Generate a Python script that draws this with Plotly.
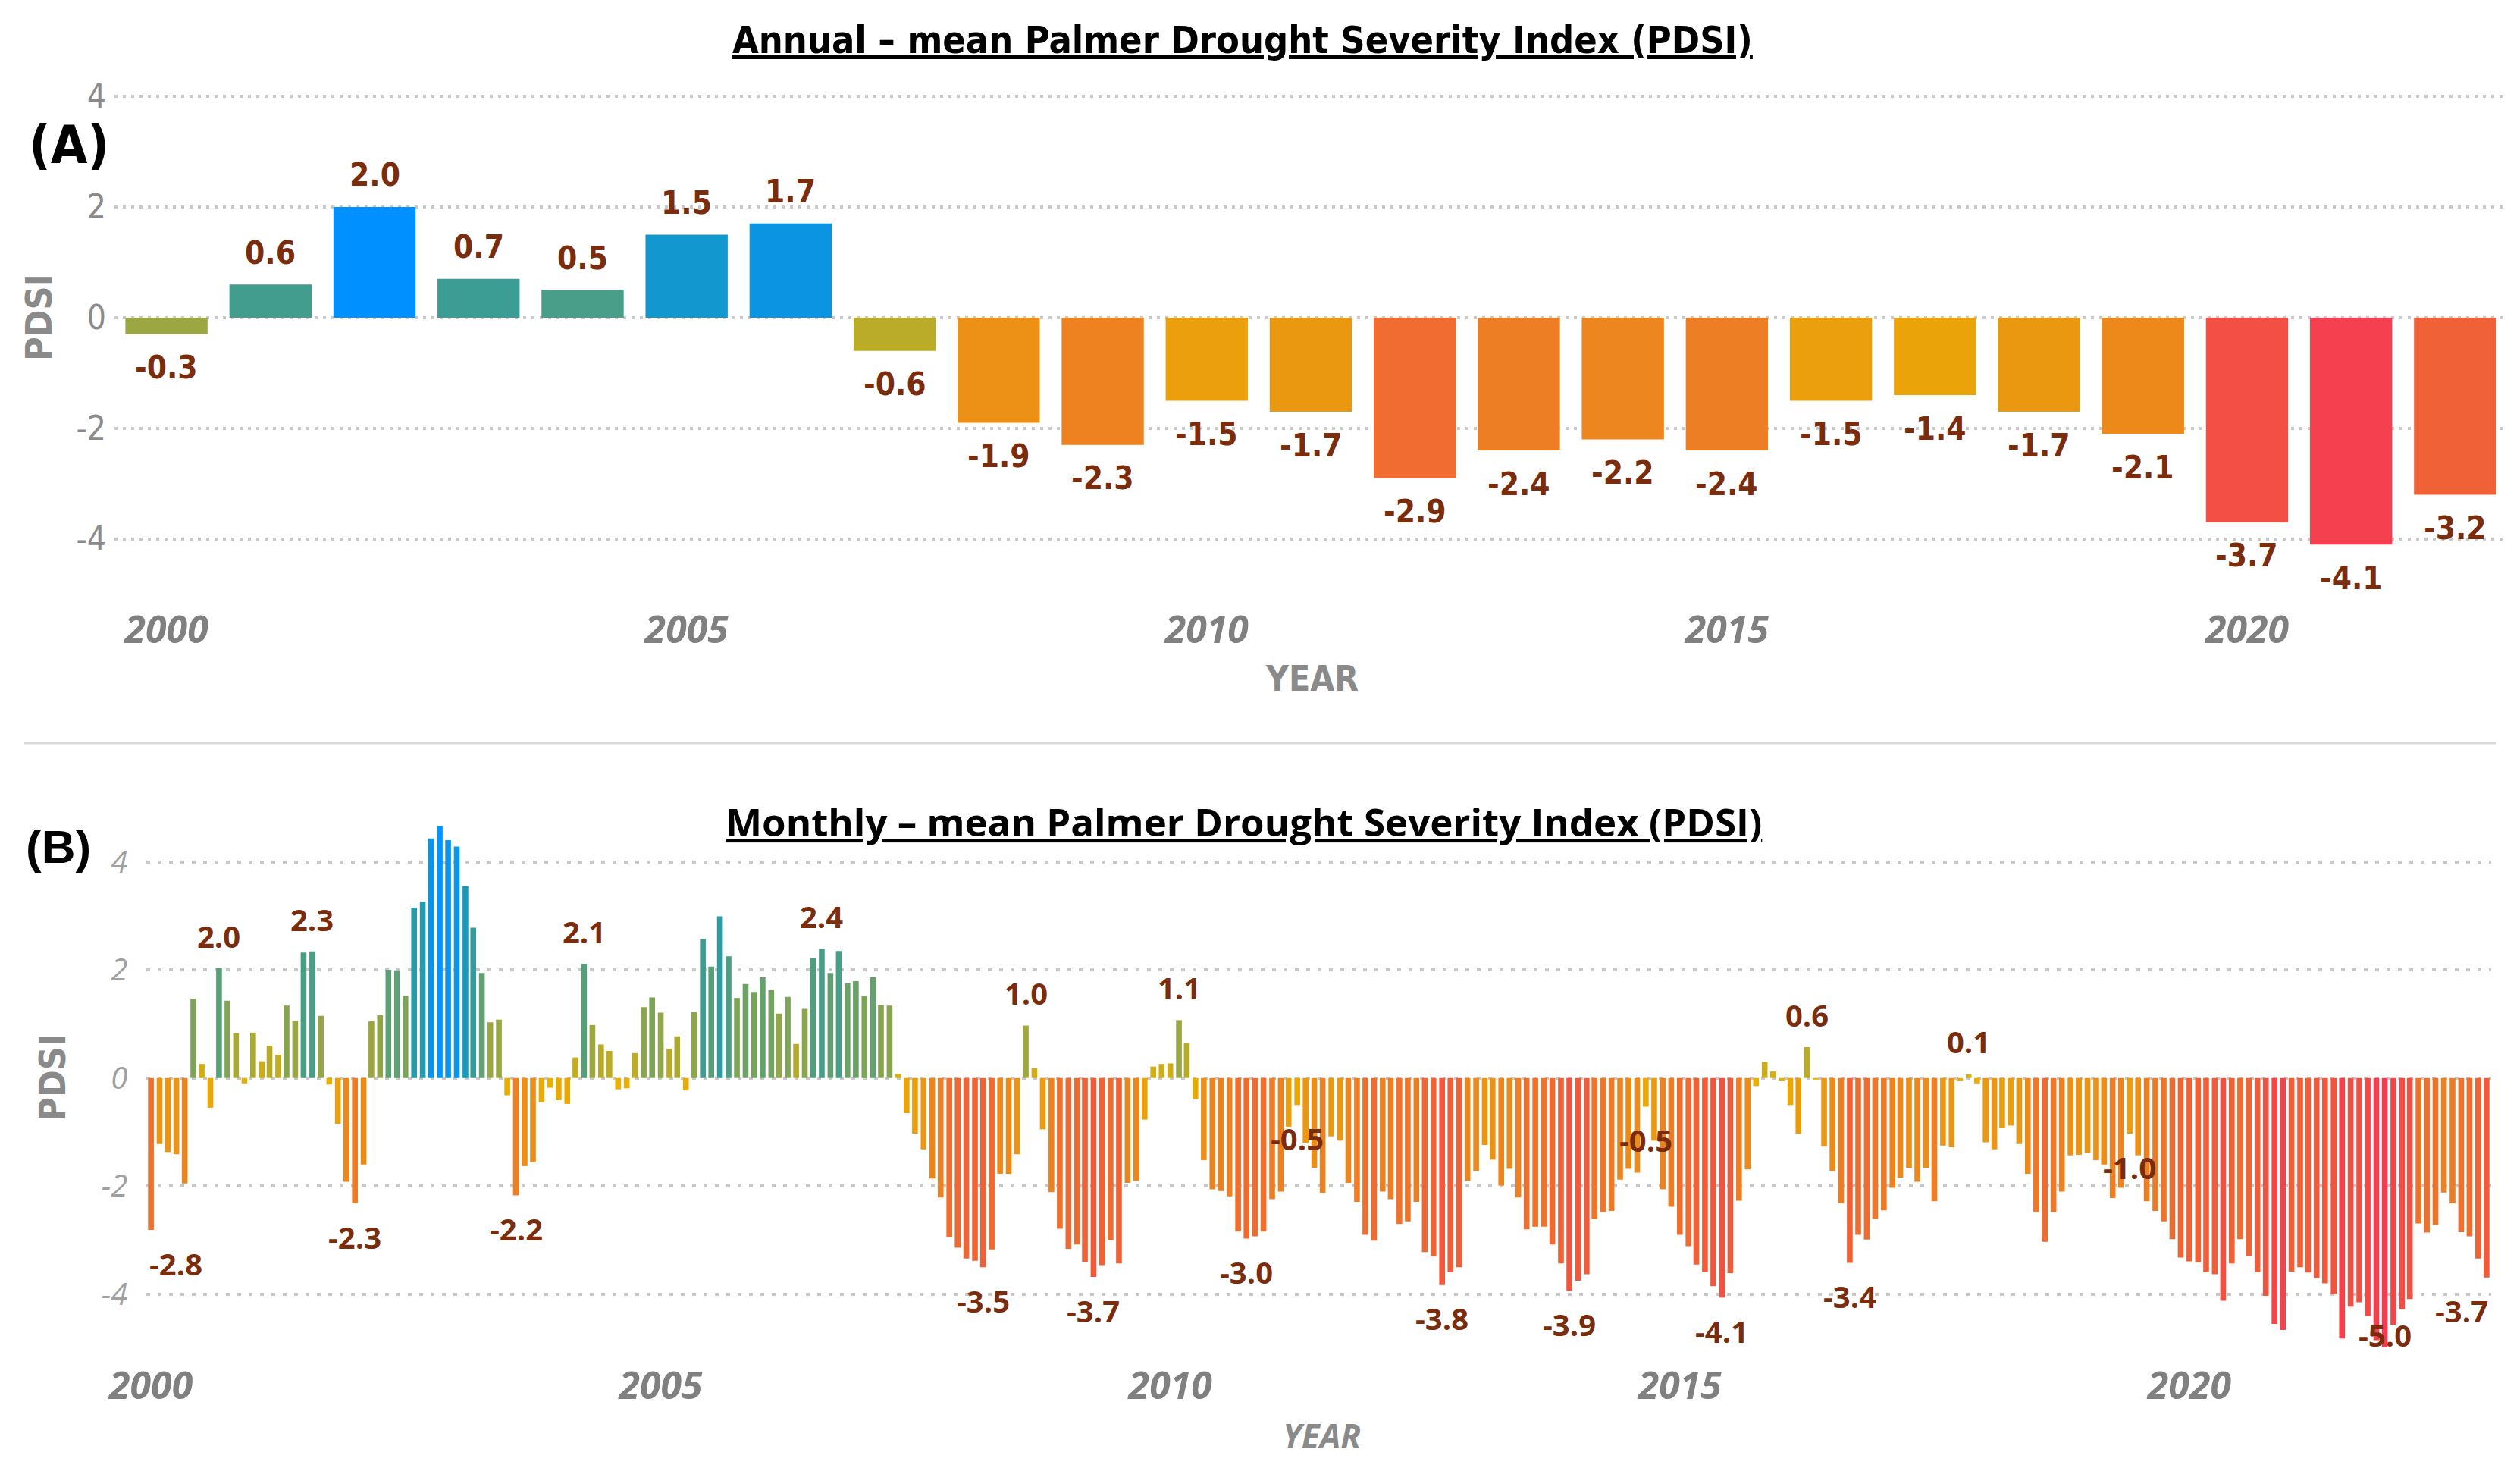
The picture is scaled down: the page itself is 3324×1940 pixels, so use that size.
import pandas as pd
import plotly.graph_objects as go

W, H = 3324, 1940

# ---- annual mean PDSI ----
years = list(range(2000, 2023))
annual_pdsi = [-0.3, 0.6, 2.0, 0.7, 0.5, 1.5, 1.7, -0.6, -1.9, -2.3, -1.5, -1.7,
               -2.9, -2.4, -2.2, -2.4, -1.5, -1.4, -1.7, -2.1, -3.7, -4.1, -3.2]

# ---- monthly mean PDSI, Jan 2000 .. Dec 2022 ----
pdsi_2000 = [-2.81, -1.22, -1.37, -1.41, -1.95, 1.47, 0.26, -0.55, 2.03, 1.43, 0.83, -0.10]
pdsi_2001 = [0.84, 0.31, 0.60, 0.43, 1.34, 1.06, 2.32, 2.34, 1.15, -0.12, -0.85, -1.92]
pdsi_2002 = [-2.32, -1.60, 1.05, 1.16, 2.00, 1.99, 1.52, 3.15, 3.26, 4.43, 4.66, 4.40]
pdsi_2003 = [4.28, 3.55, 2.78, 1.94, 1.03, 1.08, -0.32, -2.17, -1.63, -1.56, -0.45, -0.18]
pdsi_2004 = [-0.41, -0.48, 0.38, 2.11, 0.98, 0.62, 0.50, -0.21, -0.19, 0.46, 1.31, 1.49]
pdsi_2005 = [1.21, 0.54, 0.77, -0.23, 1.22, 2.57, 2.06, 2.99, 2.25, 1.48, 1.74, 1.59]
pdsi_2006 = [1.86, 1.63, 1.19, 1.50, 0.63, 1.28, 2.21, 2.39, 1.94, 2.35, 1.75, 1.79]
pdsi_2007 = [1.51, 1.86, 1.35, 1.34, 0.08, -0.65, -1.03, -1.32, -1.86, -2.21, -2.95, -3.14]
pdsi_2008 = [-3.34, -3.38, -3.50, -3.17, -1.77, -1.77, -1.41, 0.97, 0.18, -0.95, -2.11, -2.79]
pdsi_2009 = [-3.16, -3.08, -3.40, -3.68, -3.46, -3.00, -3.43, -1.94, -1.90, -0.77, 0.21, 0.26]
pdsi_2010 = [0.27, 1.07, 0.64, -0.39, -1.52, -2.06, -2.09, -2.19, -2.84, -2.97, -2.93, -2.84]
pdsi_2011 = [-2.24, -2.10, -0.90, -0.50, -1.20, -1.66, -2.13, -1.08, -1.16, -1.94, -2.29, -2.90]
pdsi_2012 = [-3.01, -2.10, -2.24, -2.70, -2.65, -2.29, -3.22, -3.30, -3.83, -3.59, -3.50, -1.90]
pdsi_2013 = [-1.72, -1.24, -1.51, -1.99, -1.68, -2.21, -2.80, -2.75, -2.75, -3.08, -3.43, -3.94]
pdsi_2014 = [-3.75, -3.63, -2.61, -2.48, -2.46, -1.88, -1.68, -1.75, -0.53, -1.16, -2.06, -2.38]
pdsi_2015 = [-2.90, -3.11, -3.45, -3.59, -3.85, -4.06, -3.61, -2.27, -1.69, -0.15, 0.30, 0.12]
pdsi_2016 = [-0.05, -0.50, -1.03, 0.57, -0.03, -1.27, -1.72, -2.32, -3.42, -2.90, -2.99, -2.61]
pdsi_2017 = [-2.45, -2.03, -1.84, -1.66, -1.92, -1.66, -2.28, -1.25, -1.28, -0.05, 0.07, -0.10]
pdsi_2018 = [-1.19, -1.32, -0.93, -0.88, -1.22, -1.77, -2.48, -3.03, -2.48, -2.10, -1.43, -1.42]
pdsi_2019 = [-1.38, -1.52, -1.60, -2.22, -2.03, -1.03, -1.43, -2.28, -2.46, -2.65, -2.98, -3.32]
pdsi_2020 = [-3.39, -3.41, -3.59, -3.63, -4.12, -3.43, -2.98, -3.29, -3.59, -4.03, -4.55, -4.66]
pdsi_2021 = [-3.58, -3.50, -3.60, -3.70, -3.80, -4.00, -4.82, -4.23, -4.15, -4.41, -4.85, -4.98]
pdsi_2022 = [-4.57, -4.28, -4.09, -2.69, -2.86, -2.72, -2.12, -2.32, -2.85, -2.93, -3.34, -3.69]

monthly_pdsi = (pdsi_2000 + pdsi_2001 + pdsi_2002 + pdsi_2003 + pdsi_2004 + pdsi_2005
                + pdsi_2006 + pdsi_2007 + pdsi_2008 + pdsi_2009 + pdsi_2010 + pdsi_2011
                + pdsi_2012 + pdsi_2013 + pdsi_2014 + pdsi_2015 + pdsi_2016 + pdsi_2017
                + pdsi_2018 + pdsi_2019 + pdsi_2020 + pdsi_2021 + pdsi_2022)
months = pd.date_range("2000-01-01", periods=len(monthly_pdsi), freq="MS")

# months that carry a data label in panel B
labelled_months = ["2000-01", "2000-09", "2001-08", "2002-01", "2002-11", "2003-08",
                   "2004-04", "2006-08", "2008-03", "2008-08", "2009-04", "2010-02",
                   "2010-10", "2011-04", "2012-09", "2013-12", "2014-09", "2015-06",
                   "2016-04", "2016-09", "2017-11", "2019-06", "2021-12", "2022-12"]

tick_years = [2000, 2005, 2010, 2015, 2020]
pdsi_ticks = [-4, -2, 0, 2, 4]
pdsi_ticktext = ["-4", "-2", "0", "2", "4"]

NARROW = "Liberation Sans Narrow, DejaVu Sans Condensed, Arial Narrow, sans-serif"
WIDE = "Open Sans, Noto Sans, sans-serif"
LABEL_COLOR = "#7b2c0c"
GREY = "#808080"

scale_annual = [[0.0, "#F4404F"], [0.5, "#E9B000"], [0.75, "#4A9E86"],
                [0.88, "#1A9AB8"], [1.0, "#0090FF"]]
scale_monthly = [[0.0, "#F43C50"], [0.5, "#E9B000"], [0.75, "#4C9E82"],
                 [0.88, "#1A9AB8"], [1.0, "#0094FF"]]


def px_x(p):
    return p / W


def px_y(p):
    return 1 - p / H


fig = go.Figure()

fig.add_trace(go.Bar(
    x=years, y=annual_pdsi, width=0.79,
    marker=dict(color=annual_pdsi, colorscale=scale_annual,
                cmin=min(annual_pdsi), cmax=max(annual_pdsi), line=dict(width=0)),
    xaxis="x", yaxis="y", showlegend=False, hoverinfo="skip",
))

fig.add_trace(go.Bar(
    x=months, y=monthly_pdsi, width=20.7 * 86400000,
    marker=dict(color=monthly_pdsi, colorscale=scale_monthly,
                cmin=min(monthly_pdsi), cmax=max(monthly_pdsi), line=dict(width=0)),
    xaxis="x2", yaxis="y2", showlegend=False, hoverinfo="skip",
))

grid_a = dict(showgrid=True, gridcolor="#c8c8c8", gridwidth=4, griddash="4px,7px")
grid_b = dict(showgrid=True, gridcolor="#c8c8c8", gridwidth=4, griddash="5px,10px")

fig.update_layout(
    width=W, height=H,
    margin=dict(l=0, r=0, t=0, b=0, autoexpand=False),
    paper_bgcolor="white", plot_bgcolor="white",
    xaxis=dict(domain=[px_x(151), px_x(3307)], range=[1999.5, 2022.5], automargin=False,
               tickvals=tick_years, showgrid=False, zeroline=False, showline=False,
               ticks="", ticklabelstandoff=0,
               tickfont=dict(family=WIDE, size=50, color=GREY, weight="bold", style="italic")),
    yaxis=dict(domain=[px_y(797), px_y(97.8)], range=[-5.18, 4.4], automargin=False,
               tickvals=pdsi_ticks, ticktext=pdsi_ticktext, zeroline=False, showline=False,
               ticks="", ticklabelstandoff=10,
               tickfont=dict(family=NARROW, size=44, color="#8a8a8a"), **grid_a),
    xaxis2=dict(type="date", domain=[px_x(193.4), px_x(3285.6)], automargin=False,
                range=["1999-12-16 12:00", "2022-12-16 12:00"], anchor="y2",
                tickvals=[f"{y}-01-01" for y in tick_years], ticktext=[str(y) for y in tick_years],
                showgrid=False, zeroline=False, showline=False, ticks="", ticklabelstandoff=4,
                tickfont=dict(family=WIDE, size=50, color=GREY, weight="bold", style="italic")),
    yaxis2=dict(domain=[px_y(1790.3), px_y(1065.2)], range=[-5.17, 5.0], anchor="x2",
                automargin=False, tickvals=pdsi_ticks, ticktext=pdsi_ticktext,
                zeroline=False, showline=False, ticks="", ticklabelstandoff=24,
                tickfont=dict(family=WIDE, size=40, color="#a0a0a0", style="italic"), **grid_b),
)

ann = []

# titles and panel letters
ann.append(dict(x=px_x(1639), y=px_y(53), xref="paper", yref="paper",
                text="<b><u>Annual – mean Palmer Drought Severity Index (PDSI)</u></b>",
                font=dict(family=NARROW, size=50, color="black")))
ann.append(dict(x=px_x(1640), y=px_y(1083), xref="paper", yref="paper",
                text="<b><u>Monthly – mean Palmer Drought Severity Index (PDSI)</u></b>",
                font=dict(family=WIDE, size=51, color="black")))
ann.append(dict(x=px_x(91), y=px_y(191), xref="paper", yref="paper", text="<b>(A)</b>",
                font=dict(family=NARROW, size=70, color="black")))
ann.append(dict(x=px_x(77), y=px_y(1116), xref="paper", yref="paper", text="<b>(B)</b>",
                font=dict(family="Liberation Sans, Arial, sans-serif", size=62, color="black")))

# axis titles
ann.append(dict(x=px_x(51), y=0, xref="paper", yref="y", text="<b>PDSI</b>", textangle=-90,
                font=dict(family=NARROW, size=48, color="#8a8a8a")))
ann.append(dict(x=px_x(69), y=0, xref="paper", yref="y2", text="<b>PDSI</b>", textangle=-90,
                font=dict(family=NARROW, size=48, color="#8a8a8a")))
ann.append(dict(x=px_x(1730), y=px_y(895), xref="paper", yref="paper", text="<b>YEAR</b>",
                font=dict(family=NARROW, size=46, color="#8a8a8a")))
ann.append(dict(x=px_x(1743), y=px_y(1893), xref="paper", yref="paper", text="<b><i>YEAR</i></b>",
                font=dict(family=WIDE, size=44, color="#8a8a8a")))

# data labels, annual: every bar
for yr, v in zip(years, annual_pdsi):
    ann.append(dict(x=yr, y=v, xref="x", yref="y", text=f"<b>{v:.1f}</b>",
                    yshift=42 if v > 0 else -44,
                    font=dict(family=NARROW, size=42, color=LABEL_COLOR)))

# data labels, monthly: selected peaks (edge labels nudged inwards)
month_keys = [m.strftime("%Y-%m") for m in months]
for key in labelled_months:
    i = month_keys.index(key)
    v = monthly_pdsi[i]
    if v > 0:
        ly = v + 0.6
    else:
        ly = max(v - 0.62, -4.75)
    shift = 0
    if i == 0:
        shift = 33
    elif i == len(months) - 1:
        shift = -33
    ann.append(dict(x=months[i], y=ly, xref="x2", yref="y2", text=f"<b>{v:.1f}</b>",
                    xshift=shift, font=dict(family=WIDE, size=40, color=LABEL_COLOR)))

for a in ann:
    a.setdefault("showarrow", False)
    a.setdefault("xanchor", "center")
    a.setdefault("yanchor", "middle")

fig.update_layout(annotations=ann)

# divider between the two panels
fig.add_shape(type="line", xref="paper", yref="paper",
              x0=px_x(32), x1=px_x(3292), y0=px_y(980), y1=px_y(980),
              line=dict(color="#d9d9d9", width=3))

fig.write_html("out.html", config={"displayModeBar": False},
               post_script="document.body.style.margin='0';")
